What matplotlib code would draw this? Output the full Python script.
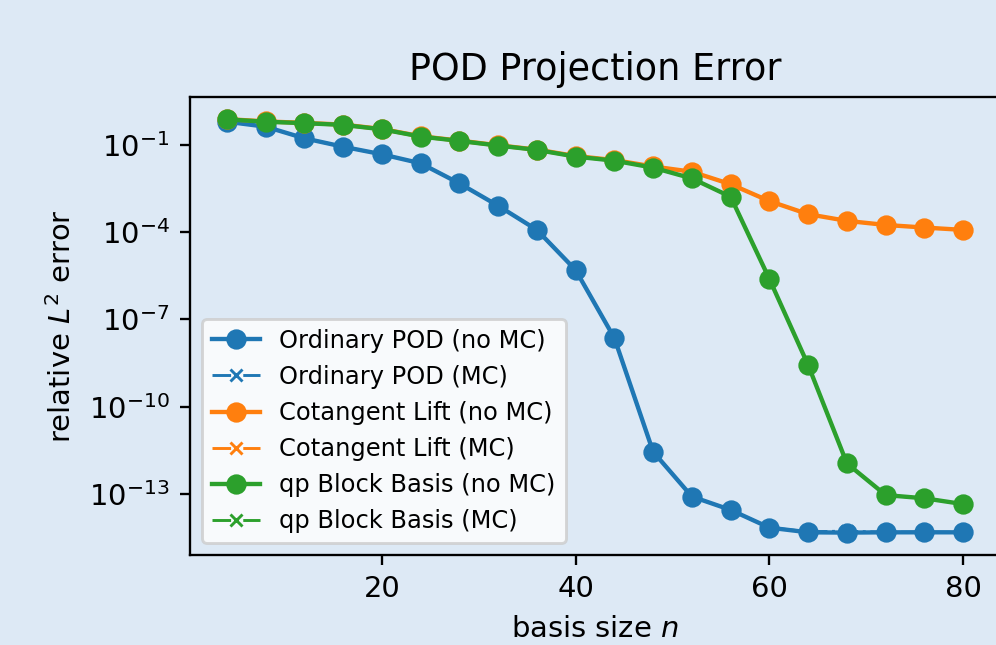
import numpy as np
import matplotlib
matplotlib.use("Agg")
import matplotlib.pyplot as plt

# basis sizes
n = [4, 8, 12, 16, 20, 24, 28, 32, 36, 40, 44, 48, 52, 56, 60, 64, 68, 72, 76, 80]

# log10 of relative L2 projection error
pod_nomc = [-0.20, -0.37, -0.77, -1.06, -1.32, -1.63, -2.32, -3.09, -3.92, -5.30,
            -7.64, -11.55, -13.09, -13.55, -14.16, -14.32, -14.33, -14.32, -14.32, -14.32]
pod_mc = [-0.20, -0.37, -0.77, -1.06, -1.32, -1.63, -2.32, -3.09, -3.92, -5.30,
          -7.64, -11.55, -13.09, -13.55, -14.16, -14.30, -14.28, -14.32, -14.31, -14.32]
ctl_nomc = [-0.11, -0.19, -0.24, -0.30, -0.45, -0.70, -0.85, -1.01, -1.16, -1.38,
            -1.52, -1.74, -1.92, -2.35, -2.93, -3.38, -3.61, -3.75, -3.84, -3.92]
ctl_mc = [-0.11, -0.19, -0.24, -0.30, -0.45, -0.70, -0.85, -1.01, -1.16, -1.38,
          -1.52, -1.74, -1.92, -2.35, -2.93, -3.38, -3.61, -3.75, -3.84, -3.92]
qp_nomc = [-0.12, -0.20, -0.25, -0.31, -0.46, -0.71, -0.86, -1.02, -1.17, -1.40,
           -1.54, -1.78, -2.15, -2.78, -5.61, -8.57, -11.95, -13.04, -13.15, -13.35]
qp_mc = [-0.12, -0.20, -0.25, -0.31, -0.46, -0.71, -0.86, -1.02, -1.17, -1.40,
         -1.54, -1.78, -2.15, -2.78, -5.61, -8.57, -11.95, -13.04, -13.15, -13.35]

series = [
    ("Ordinary POD", "tab:blue", pod_nomc, pod_mc),
    ("Cotangent Lift", "tab:orange", ctl_nomc, ctl_mc),
    ("qp Block Basis", "tab:green", qp_nomc, qp_mc),
]

BG = "#dde9f5"
DPI = 209
fig = plt.figure(figsize=(996 / DPI, 645 / DPI), dpi=DPI, facecolor=BG)
# right spine falls just past the canvas edge, as in the cropped original
ax = fig.add_axes([190 / 996, 90 / 645, 810 / 996, 458 / 645], facecolor=BG)

for name, c, nomc, mc in series:
    ax.semilogy(n, 10.0 ** np.array(nomc), "-o", color=c, label=f"{name} (no MC)")
    # MC curves are thin and sit underneath the no-MC ones
    ax.semilogy(n, 10.0 ** np.array(mc), "-.x", color=c, lw=1, ms=4,
                label=f"{name} (MC)", zorder=1.9)

ax.set_xlim(0.2, 83.8)
ax.set_ylim(10 ** -15.1, 10 ** 0.65)
ax.set_xticks([20, 40, 60, 80])
ax.set_yticks([1e-1, 1e-4, 1e-7, 1e-10, 1e-13])
ax.yaxis.set_minor_locator(matplotlib.ticker.NullLocator())
ax.tick_params(labelsize=10)
ax.set_title("POD Projection Error", fontsize=12.6)
ax.set_xlabel("basis size $n$", fontsize=10)
ax.set_ylabel("relative $L^2$ error", fontsize=10)
ax.legend(loc="lower left", fontsize="small")

fig.savefig("out.png", dpi=DPI, facecolor=BG)
